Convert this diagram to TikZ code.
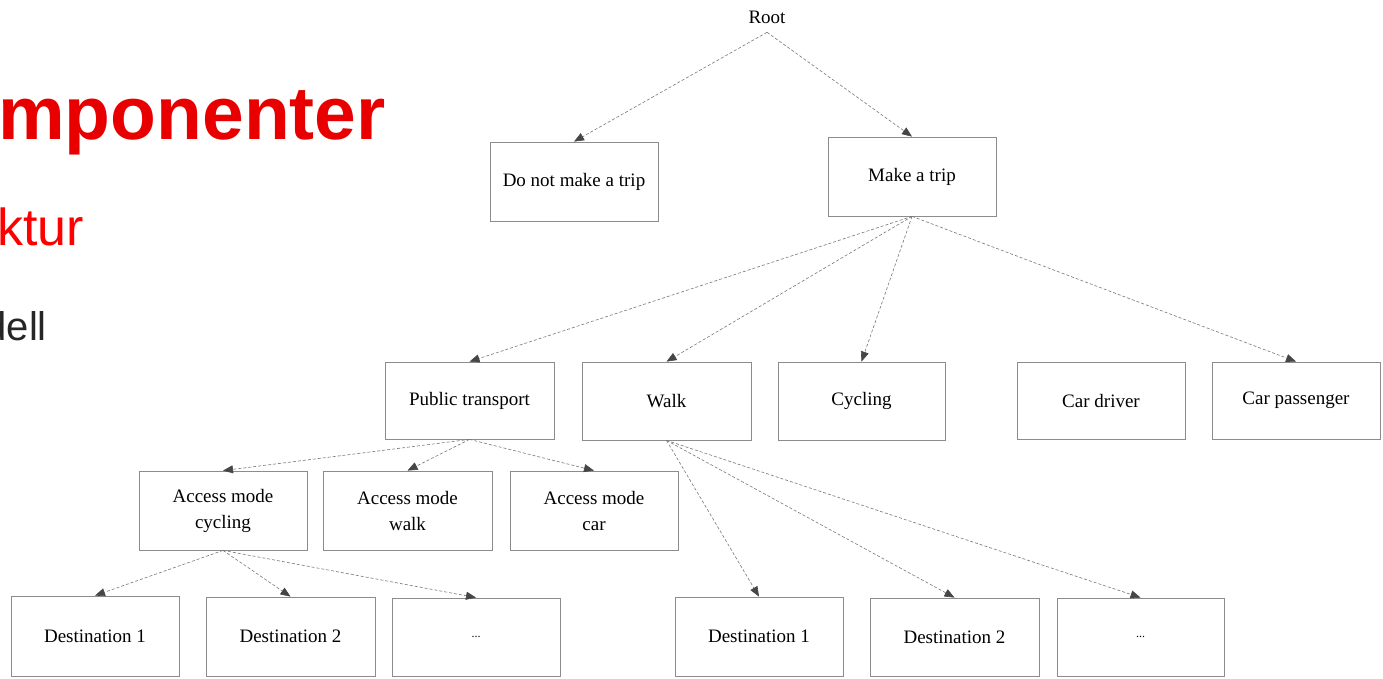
\documentclass[tikz,border=0pt]{standalone}
\usepackage{fontspec}
\setmainfont{Liberation Serif}
\newfontfamily\slidefont{Liberation Sans}
\usetikzlibrary{arrows.meta}
\definecolor{titlered}{RGB}{232,0,0}
\definecolor{subred}{RGB}{255,0,0}
\definecolor{bodygray}{RGB}{38,38,38}
\definecolor{boxgray}{RGB}{140,140,140}
\definecolor{linegray}{RGB}{120,120,120}
\definecolor{tipgray}{RGB}{70,70,70}
\begin{document}
\begin{tikzpicture}[x=1pt,y=-1pt,
  box/.style={draw=boxgray, line width=0.8pt, fill=white, minimum width=168pt, minimum height=78pt,
    inner sep=0pt, align=center, font=\fontsize{19}{26}\selectfont},
  conn/.style={draw=linegray, line width=0.6pt, densely dashed,
    -{Triangle[length=10pt,width=8pt,fill=tipgray,color=tipgray]}, shorten >=0pt},
  slide/.style={inner sep=0pt, font=\slidefont}
]
\useasboundingbox (0,0) rectangle (1383,679);
\clip (0,0) rectangle (1383,679);
\fill[white] (0,0) rectangle (1383,679);

% slide text (cut off at left)
\node[slide, anchor=base east, text=titlered, font=\slidefont\bfseries\fontsize{75}{80}\selectfont] (title) at (386,140) {omponenter};
\node[slide, anchor=base west, text=subred, font=\slidefont\fontsize{52}{56}\selectfont] (sub) at (-3,245) {ktur};
\node[slide, anchor=base east, text=bodygray, font=\slidefont\fontsize{40}{44}\selectfont] (body) at (47,340) {dell};

% tree
\node[inner xsep=2pt, inner ysep=2pt, outer ysep=7pt, font=\fontsize{19}{22}\selectfont] (root) at (767,17) {Root};
\node[box, minimum height=79pt] (dnt) at (574,181.5) {Do not make a trip};
\node[box, minimum height=79pt] (mat) at (912,176.5) {Make a trip};

\node[box, minimum width=169pt, minimum height=77pt] (pt) at (469.5,400.5) {Public transport};
\node[box, minimum width=169pt] (walk) at (666.5,401) {Walk};
\node[box, minimum width=167pt] (cyc) at (861.5,401) {Cycling};
\node[box, minimum height=77pt] (cdr) at (1101,400.5) {Car driver};
\node[box, minimum height=77pt] (cps) at (1296,400.5) {Car passenger};

\node[box, minimum height=79pt] (amc) at (223,510.5) {Access mode\\cycling};
\node[box, minimum width=169pt, minimum height=79pt] (amw) at (407.5,510.5) {Access mode\\walk};
\node[box, minimum height=79pt] (amcar) at (594,510.5) {Access mode\\car};

\node[box, minimum height=80pt] (da1) at (95,636) {Destination 1};
\node[box, minimum width=169pt, minimum height=79pt] (da2) at (290.5,636.5) {Destination 2};
\node[box] (da3) at (476,637) {\fontsize{12}{14}\selectfont ...};

\node[box, minimum height=79pt] (db1) at (759,636.5) {Destination 1};
\node[box, minimum width=169pt] (db2) at (954.5,637) {Destination 2};
\node[box, minimum width=167pt] (db3) at (1140.5,637) {\fontsize{12}{14}\selectfont ...};

% connectors
\draw[conn] (root.south) -- (dnt.north);
\draw[conn] (root.south) -- (mat.north);
\draw[conn] (mat.south) -- (pt.north);
\draw[conn] (mat.south) -- (walk.north);
\draw[conn] (mat.south) -- (cyc.north);
\draw[conn] (mat.south) -- (cps.north);
\draw[conn] (pt.south) -- (amc.north);
\draw[conn] (pt.south) -- (amw.north);
\draw[conn] (pt.south) -- (amcar.north);
\draw[conn] (amc.south) -- (da1.north);
\draw[conn] (amc.south) -- (da2.north);
\draw[conn] (amc.south) -- (da3.north);
\draw[conn] (walk.south) -- (db1.north);
\draw[conn] (walk.south) -- (db2.north);
\draw[conn] (walk.south) -- (db3.north);
\end{tikzpicture}
\end{document}
